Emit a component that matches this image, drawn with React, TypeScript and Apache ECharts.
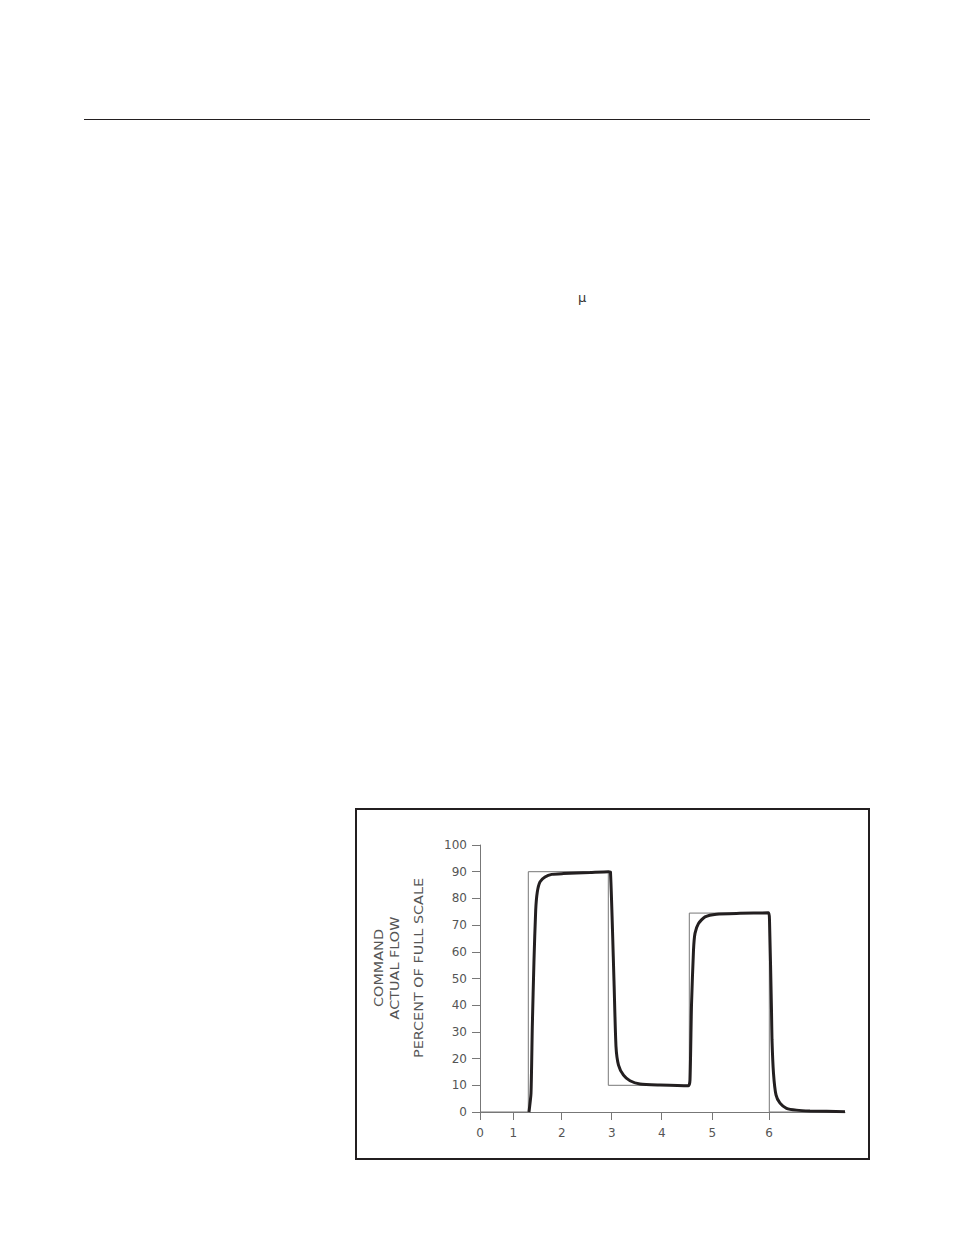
import { useEffect, useRef } from 'react';
import * as echarts from 'echarts';

// x は図上の目盛位置（単位は任意、目盛ラベルは不等間隔）
const xTickPos = [0, 0.666, 1.634, 2.634, 3.634, 4.646, 5.78];
const xTickLabels = ['0', '1', '2', '3', '4', '5', '6'];

const yTitleLines = ['COMMAND', 'ACTUAL FLOW', 'PERCENT OF FULL SCALE'];

// 指令値（ステップ）
const commandData: [number, number][] = [
  [0, 0], [0.966, 0], [0.966, 90], [2.566, 90], [2.566, 10],
  [4.186, 10], [4.186, 74.5], [5.786, 74.5], [5.786, 0], [7.3, 0],
];

// 実流量
const actualData: [number, number][] = [
  [0.98, 0], [1.02, 7], [1.046, 31.9], [1.08, 56.9], [1.114, 75.6], [1.146, 82.4],
  [1.2, 86.2], [1.3, 88], [1.434, 89], [1.666, 89.3], [2.2, 89.7], [2.57, 90],
  [2.61, 89.8], [2.68, 49], [2.72, 24.5], [2.77, 17.6], [2.87, 13.8], [3.0, 11.7],
  [3.2, 10.5], [3.6, 10.1], [4.17, 9.8], [4.2, 12], [4.23, 40], [4.27, 60.6],
  [4.3, 66.9], [4.37, 70.6], [4.5, 73.1], [4.73, 74.1], [5.2, 74.4], [5.77, 74.6],
  [5.79, 71.8], [5.83, 38], [5.84, 27], [5.87, 14.5], [5.92, 6.4], [6.0, 3.3],
  [6.13, 1.4], [6.33, 0.7], [6.6, 0.4], [7.3, 0.1],
];

const FONT = 'DejaVu Sans';
const GRAY = '#555';

const App: React.FC = () => {
  const chartRef = useRef<HTMLDivElement>(null);

  useEffect(() => {
    if (!chartRef.current) return;
    const chart = echarts.init(chartRef.current, undefined, { renderer: 'svg' });

    const labelFor = (v: number) => {
      let best = 0;
      xTickPos.forEach((p, i) => {
        if (Math.abs(p - v) < Math.abs(xTickPos[best] - v)) best = i;
      });
      return xTickLabels[best];
    };

    const titleX = [379, 395, 419];

    const option: echarts.EChartsOption = {
      animation: false,
      grid: { left: 480, top: 845, width: 365, height: 267 },
      xAxis: {
        type: 'value',
        min: 0,
        max: 7.3,
        axisLine: { lineStyle: { color: '#777', width: 1 } },
        axisTick: { customValues: xTickPos, length: 8, lineStyle: { color: '#777' } },
        axisLabel: {
          customValues: xTickPos,
          formatter: (v: number) => labelFor(v),
          color: GRAY,
          fontFamily: FONT,
          fontSize: 12,
          margin: 15,
        },
        splitLine: { show: false },
      },
      yAxis: {
        type: 'value',
        min: 0,
        max: 100,
        interval: 10,
        axisLine: { show: true, lineStyle: { color: '#777', width: 1 } },
        axisTick: { show: true, length: 8, lineStyle: { color: '#777' } },
        axisLabel: { color: GRAY, fontFamily: FONT, fontSize: 12, margin: 13 },
        splitLine: { show: false },
      },
      graphic: [
        // ページ上部の罫線
        { type: 'line', shape: { x1: 84, y1: 119.5, x2: 870, y2: 119.5 }, style: { stroke: '#231f20', lineWidth: 1 } },
        { type: 'text', x: 578, y: 291, style: { text: 'μ', font: '13px "DejaVu Sans"', fill: '#333' } },
        // 図の枠
        { type: 'rect', shape: { x: 356, y: 809, width: 513, height: 350 }, style: { fill: 'none', stroke: '#231f20', lineWidth: 2 } },
        ...yTitleLines.map((t, i) => ({
          type: 'text' as const,
          x: titleX[i],
          y: 968,
          rotation: Math.PI / 2,
          scaleX: 1.2,
          style: {
            text: t,
            font: `12px "${FONT}"`,
            fill: GRAY,
            textAlign: 'center' as const,
            textVerticalAlign: 'middle' as const,
          },
        })),
      ],
      series: [
        {
          name: 'COMMAND',
          type: 'line',
          data: commandData,
          showSymbol: false,
          lineStyle: { color: '#777', width: 1 },
          z: 2,
        },
        {
          name: 'ACTUAL FLOW',
          type: 'line',
          data: actualData,
          showSymbol: false,
          smooth: 0.2,
          lineStyle: { color: '#231f20', width: 3 },
          z: 3,
        },
      ],
    };

    chart.setOption(option);
    return () => chart.dispose();
  }, []);

  return (
    <div
      ref={chartRef}
      style={{ position: 'absolute', left: 0, top: 0, width: '954px', height: '1235px', background: '#fff' }}
    />
  );
};

export default App;
